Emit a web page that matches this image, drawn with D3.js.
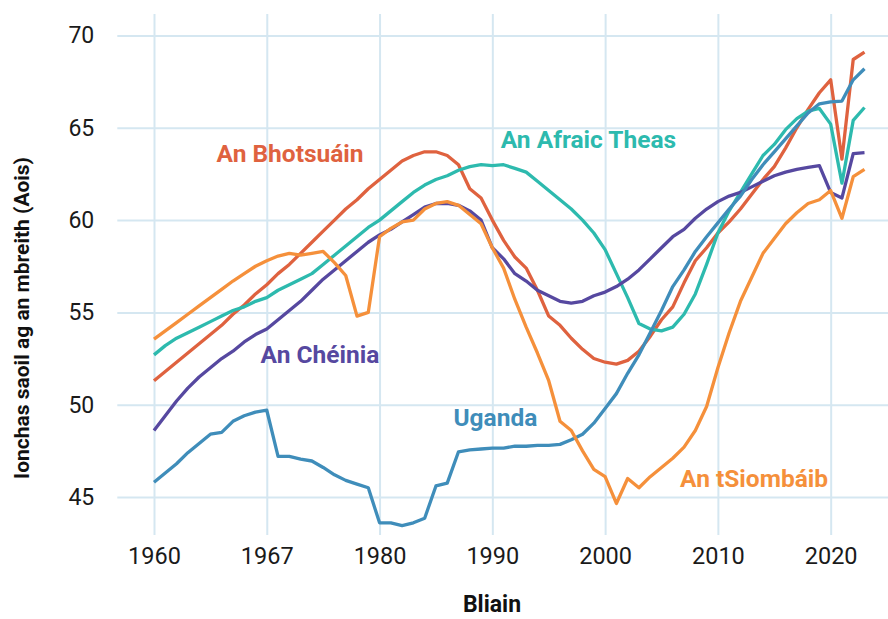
<!DOCTYPE html>
<html>
<head>
<meta charset="utf-8">
<script src="https://cdn.jsdelivr.net/npm/d3@7"></script>
<style>
  body { margin: 0; background: #fff; }
  text { font-family: Roboto, "Noto Sans", sans-serif; }
</style>
</head>
<body>
<div id="chart"></div>
<script>
// life expectancy at birth, 1960-2023
var years = d3.range(1960, 2024);

var botswana = [
  51.3, 51.8, 52.3, 52.8, 53.3, 53.8, 54.3, 54.9, 55.4, 56.0,
  56.5, 57.1, 57.6, 58.2, 58.8, 59.4, 60.0, 60.6, 61.1, 61.7,
  62.2, 62.7, 63.2, 63.5, 63.7, 63.7, 63.5, 63.0, 61.7, 61.2,
  60.0, 58.9, 58.0, 57.4, 56.2, 54.8, 54.3, 53.6, 53.0, 52.5,
  52.3, 52.2, 52.4, 52.9, 53.7, 54.6, 55.3, 56.6, 57.8, 58.5,
  59.3, 59.9, 60.6, 61.4, 62.2, 62.9, 63.9, 65.0, 66.0, 66.9,
  67.6, 63.3, 68.7, 69.1
];
var southAfrica = [
  52.7, 53.2, 53.6, 53.9, 54.2, 54.5, 54.8, 55.1, 55.3, 55.6,
  55.8, 56.2, 56.5, 56.8, 57.1, 57.6, 58.1, 58.6, 59.1, 59.6,
  60.0, 60.5, 61.0, 61.5, 61.9, 62.2, 62.4, 62.7, 62.9, 63.0,
  62.95, 63.0, 62.8, 62.6, 62.1, 61.6, 61.1, 60.6, 60.0, 59.3,
  58.4, 57.1, 55.8, 54.4, 54.1, 54.0, 54.2, 54.9, 56.0, 57.6,
  59.3, 60.5, 61.5, 62.5, 63.5, 64.1, 64.9, 65.5, 65.9, 66.05,
  65.2, 62.0, 65.4, 66.1
];
var kenya = [
  48.6, 49.4, 50.2, 50.9, 51.5, 52.0, 52.5, 52.9, 53.4, 53.8,
  54.1, 54.6, 55.1, 55.6, 56.2, 56.8, 57.3, 57.8, 58.3, 58.8,
  59.2, 59.5, 59.9, 60.3, 60.7, 60.9, 60.9, 60.8, 60.5, 60.0,
  58.5, 57.9, 57.1, 56.7, 56.2, 55.9, 55.6, 55.5, 55.6, 55.9,
  56.1, 56.4, 56.8, 57.3, 57.9, 58.5, 59.1, 59.5, 60.1, 60.6,
  61.0, 61.3, 61.5, 61.8, 62.1, 62.4, 62.6, 62.75, 62.85, 62.95,
  61.5, 61.2, 63.6, 63.65
];
var uganda = [
  45.8, 46.3, 46.8, 47.4, 47.9, 48.4, 48.5, 49.1, 49.4, 49.6,
  49.7, 47.2, 47.2, 47.05, 46.95, 46.6, 46.2, 45.9, 45.7, 45.5,
  43.6, 43.6, 43.45, 43.6, 43.85, 45.6, 45.75, 47.45, 47.55, 47.6,
  47.65, 47.65, 47.75, 47.75, 47.8, 47.8, 47.85, 48.1, 48.4, 49.0,
  49.8, 50.6, 51.7, 52.7, 53.9, 55.1, 56.4, 57.3, 58.3, 59.1,
  59.85, 60.6, 61.3, 62.2, 63.0, 63.7, 64.4, 65.1, 65.8, 66.3,
  66.4, 66.45, 67.6, 68.2
];
var zimbabwe = [
  53.55, 54.0, 54.45, 54.9, 55.35, 55.8, 56.25, 56.7, 57.1, 57.5,
  57.8, 58.05, 58.2, 58.1, 58.2, 58.3, 57.7, 57.0, 54.8, 55.0,
  59.1, 59.55, 59.9, 60.0, 60.6, 60.9, 61.0, 60.8, 60.3, 59.8,
  58.5, 57.4, 55.7, 54.2, 52.8, 51.3, 49.1, 48.6, 47.5, 46.5,
  46.1, 44.65, 46.0, 45.5, 46.1, 46.6, 47.1, 47.7, 48.6, 49.9,
  52.0, 53.9, 55.6, 56.9, 58.2, 59.0, 59.8, 60.4, 60.9, 61.1,
  61.6, 60.1, 62.35, 62.75
];

var xTicks = [1960, 1970, 1980, 1990, 2000, 2010, 2020];
var xTickLabels = ["1960", "1967", "1980", "1990", "2000", "2010", "2020"];
var yTicks = [45, 50, 55, 60, 65, 70];

var series = [
  {name: "An Bhotsuáin",    values: botswana,    color: "#df623f", label: [1965.55, 63.15]},
  {name: "An Afraic Theas", values: southAfrica, color: "#2dbaae", label: [1990.75, 63.9]},
  {name: "An Chéinia",      values: kenya,       color: "#5648a0", label: [1969.45, 52.25]},
  {name: "Uganda",          values: uganda,      color: "#3f8dba", label: [1986.55, 48.85]},
  {name: "An tSiombáib",    values: zimbabwe,    color: "#f5903b", label: [2006.65, 45.55]}
];

var width = 888,
    height = 619,
    panel = {left: 117.3, right: 888, top: 14, bottom: 535};

var x = d3.scaleLinear().domain([1960, 2023]).range([154, 864.5]);
var y = d3.scaleLinear().domain([45, 70]).range([497, 35.5]);

var svg = d3.select("#chart").append("svg")
    .attr("width", width)
    .attr("height", height)
    .style("display", "block");

svg.append("rect")
    .attr("width", width)
    .attr("height", height)
    .attr("fill", "#fff");

// grid
var grid = svg.append("g").attr("class", "grid");

grid.append("g")
    .attr("transform", "translate(" + panel.left + ",0)")
    .call(d3.axisLeft(y).tickValues(yTicks).tickSize(-(panel.right - panel.left)).tickFormat(""))
    .call(function(g){ g.select(".domain").remove(); });

grid.append("g")
    .attr("transform", "translate(0," + panel.bottom + ")")
    .call(d3.axisBottom(x).tickValues(xTicks).tickSize(-(panel.bottom - panel.top)).tickFormat(""))
    .call(function(g){ g.select(".domain").remove(); });

grid.selectAll("line")
    .attr("stroke", "#d5e7f1")
    .attr("stroke-width", 2);

// axes
svg.append("g")
    .attr("transform", "translate(" + panel.left + ",0)")
    .call(d3.axisLeft(y).tickValues(yTicks).tickSize(0).tickPadding(23))
    .call(function(g){ g.select(".domain").remove(); })
    .selectAll("text")
        .attr("font-size", 23)
        .attr("fill", "#1a1a1a");

svg.append("g")
    .attr("transform", "translate(0," + panel.bottom + ")")
    .call(d3.axisBottom(x).tickValues(xTicks).tickSize(0).tickPadding(12)
        .tickFormat(function(d, i){ return xTickLabels[i]; }))
    .call(function(g){ g.select(".domain").remove(); })
    .selectAll("text")
        .attr("font-size", 23.5)
        .attr("fill", "#1a1a1a");

svg.append("text")
    .attr("x", 492)
    .attr("y", 612)
    .attr("text-anchor", "middle")
    .attr("font-size", 23)
    .attr("font-weight", "bold")
    .attr("fill", "#111")
    .text("Bliain");

svg.append("text")
    .attr("transform", "translate(29,318) rotate(-90)")
    .attr("text-anchor", "middle")
    .attr("font-size", 21)
    .attr("font-weight", "bold")
    .attr("fill", "#111")
    .text("Ionchas saoil ag an mbreith (Aois)");

// lines
var line = d3.line()
    .x(function(d, i){ return x(years[i]); })
    .y(function(d){ return y(d); });

svg.append("g").selectAll("path")
    .data(series)
    .join("path")
        .attr("d", function(s){ return line(s.values); })
        .attr("fill", "none")
        .attr("stroke", function(s){ return s.color; })
        .attr("stroke-width", 3.3)
        .attr("stroke-linejoin", "round");

svg.append("g").selectAll("text")
    .data(series)
    .join("text")
        .attr("x", function(s){ return x(s.label[0]); })
        .attr("y", function(s){ return y(s.label[1]); })
        .attr("font-size", 24.5)
        .attr("font-weight", "bold")
        .attr("fill", function(s){ return s.color; })
        .text(function(s){ return s.name; });
</script>
</body>
</html>
